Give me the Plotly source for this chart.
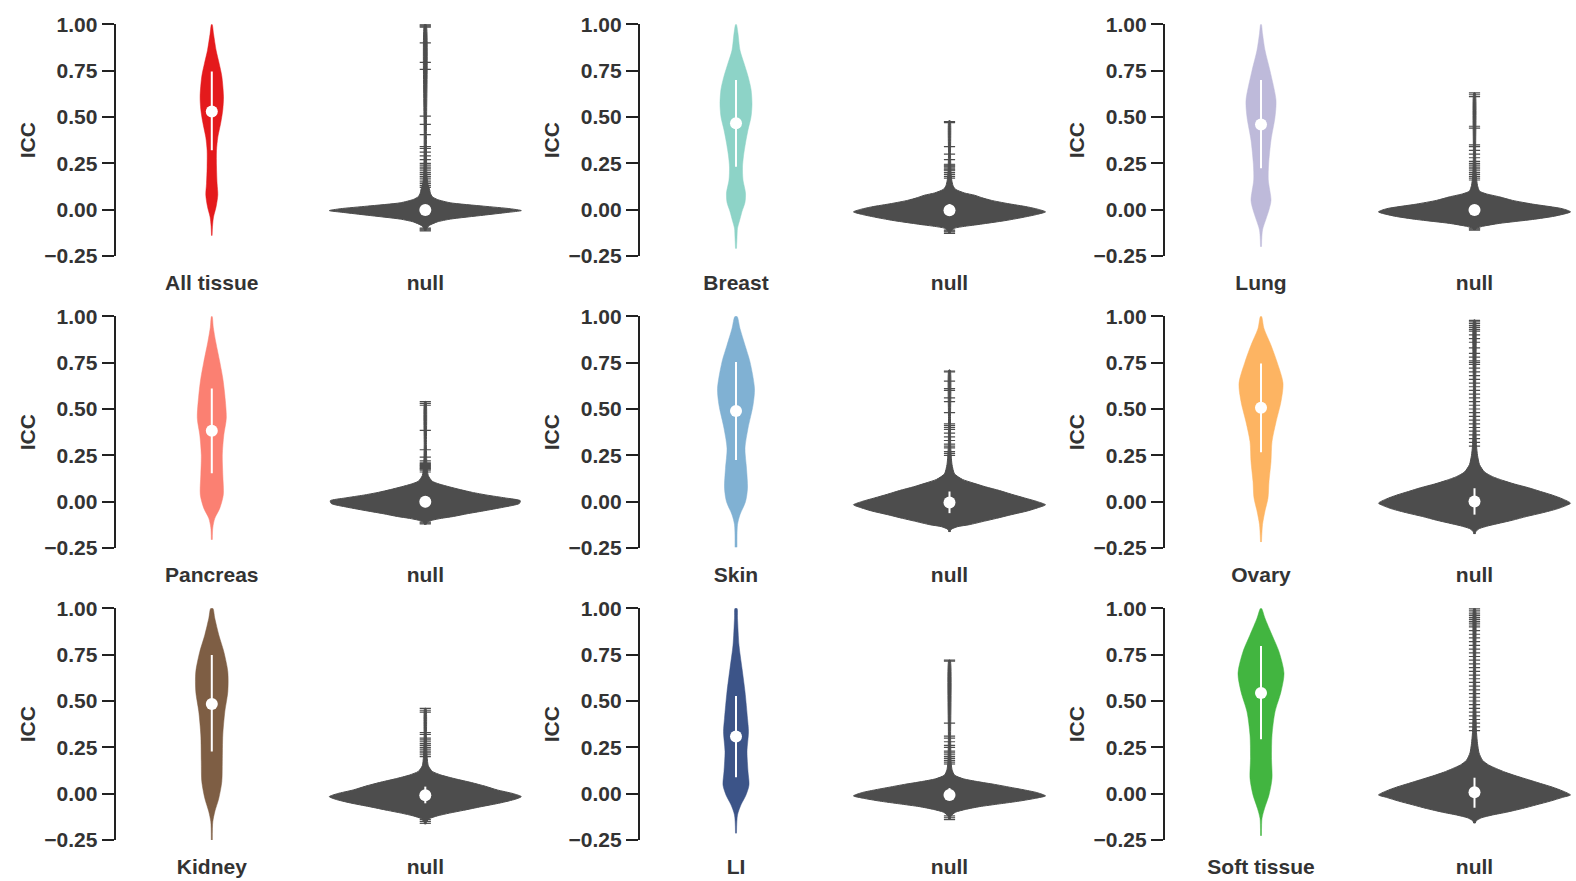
import plotly.graph_objects as go

FIG_W, FIG_H = 1576, 881

# ---------------- data ----------------
tissues = ["All tissue", "Breast", "Lung", "Pancreas", "Skin", "Ovary", "Kidney", "LI", "Soft tissue"]
tissue_colors = ["#E41A1C", "#8DD3C7", "#BEBADA", "#FB8072", "#80B1D3", "#FDB462", "#7E5E44", "#3C5488", "#42B540"]
null_color = "#4D4D4D"

# tissue ICC densities: y grid and density (half-width)
all_tissue_y = [-0.14, -0.09, -0.04, 0.016, 0.08, 0.14, 0.23, 0.32, 0.39, 0.47, 0.54, 0.61, 0.72, 0.79, 0.86, 0.95, 1.00]
all_tissue_d = [0.3, 0.7, 1.7, 4.3, 6.0, 5.3, 4.7, 4.7, 6.0, 9.0, 11.0, 11.7, 10.0, 7.3, 4.3, 1.7, 0.3]
breast_y = [-0.21, -0.15, -0.10, -0.06, -0.01, 0.04, 0.09, 0.16, 0.23, 0.29, 0.36, 0.43, 0.50, 0.57, 0.65, 0.72, 0.79, 0.86, 0.95, 1.00]
breast_d = [0.5, 1.0, 1.5, 3.5, 6.0, 9.0, 9.5, 7.0, 6.5, 7.5, 9.5, 12.0, 15.0, 16.0, 15.0, 12.0, 8.0, 4.0, 2.0, 0.3]
lung_y = [-0.20, -0.11, -0.055, 0.0, 0.05, 0.16, 0.25, 0.375, 0.50, 0.59, 0.75, 0.86, 0.95, 1.00]
lung_d = [0.5, 1.5, 4.7, 8.0, 10.0, 7.3, 7.7, 10.0, 14.0, 15.0, 9.0, 4.0, 1.5, 0.3]
pancreas_y = [-0.205, -0.14, -0.09, -0.035, 0.037, 0.145, 0.25, 0.36, 0.45, 0.575, 0.665, 0.754, 0.86, 0.94, 1.00]
pancreas_d = [0.5, 1.0, 3.0, 8.0, 11.5, 11.0, 10.5, 12.0, 14.5, 13.0, 11.0, 8.0, 4.0, 1.5, 0.3]
skin_y = [-0.246, -0.124, -0.07, 0.0, 0.073, 0.18, 0.288, 0.396, 0.52, 0.61, 0.754, 0.844, 0.934, 1.00]
skin_d = [1.0, 1.5, 4.0, 9.5, 11.5, 10.5, 9.0, 12.0, 17.0, 18.5, 14.0, 9.0, 4.0, 1.0]
ovary_y = [-0.218, -0.124, -0.05, 0.02, 0.109, 0.216, 0.324, 0.43, 0.54, 0.64, 0.754, 0.844, 0.934, 1.00]
ovary_d = [0.5, 1.5, 4.0, 7.0, 8.0, 10.0, 11.0, 15.0, 20.0, 22.0, 16.0, 10.0, 3.0, 0.5]
kidney_y = [-0.25, -0.151, -0.097, -0.025, 0.065, 0.173, 0.317, 0.442, 0.55, 0.658, 0.766, 0.856, 0.946, 1.00]
kidney_d = [0.5, 1.0, 3.0, 7.0, 10.0, 10.5, 11.0, 13.0, 16.0, 16.0, 12.0, 7.0, 3.0, 1.0]
li_y = [-0.214, -0.115, -0.06, -0.007, 0.047, 0.119, 0.227, 0.335, 0.406, 0.55, 0.676, 0.80, 0.946, 1.00]
li_d = [0.5, 1.5, 5.0, 10.0, 13.0, 12.0, 11.0, 12.5, 11.5, 9.0, 6.0, 3.0, 1.5, 1.0]
soft_tissue_y = [-0.227, -0.133, -0.08, -0.007, 0.083, 0.19, 0.317, 0.442, 0.55, 0.65, 0.766, 0.856, 0.946, 1.00]
soft_tissue_d = [0.5, 1.0, 3.5, 8.0, 11.0, 10.5, 11.0, 14.0, 20.0, 23.0, 18.0, 11.0, 4.0, 0.5]

tissue_median = [0.530, 0.466, 0.460, 0.383, 0.489, 0.507, 0.484, 0.308, 0.543]
tissue_q1 = [0.320, 0.232, 0.223, 0.153, 0.225, 0.267, 0.227, 0.088, 0.293]
tissue_q3 = [0.745, 0.700, 0.700, 0.610, 0.754, 0.745, 0.748, 0.527, 0.797]

# null ICC densities
null1_y = [-0.115, -0.10, -0.085, -0.066, -0.051, -0.03, -0.015, -0.005, 0.005, 0.019, 0.037, 0.055, 0.07, 0.09, 0.105, 0.14, 0.2, 0.4, 1.0]
null1_d = [0.6, 1.5, 4, 12, 25, 58, 82, 96, 85, 58, 25, 12, 7, 5, 4.5, 2.5, 1.5, 1.1, 0.8]
null2_y = [-0.128, -0.115, -0.10, -0.09, -0.083, -0.07, -0.057, -0.04, -0.025, -0.012, 0.0, 0.015, 0.033, 0.05, 0.065, 0.078, 0.09, 0.11, 0.13, 0.16, 0.2, 0.3, 0.48]
null2_d = [0.6, 1.5, 5, 15, 25, 42, 58, 75, 88, 96, 90, 78, 58, 42, 32, 25, 15, 6, 3.5, 2.2, 1.5, 1.0, 0.7]
null3_y = [-0.11, -0.10, -0.09, -0.074, -0.053, -0.035, -0.012, 0.005, 0.03, 0.05, 0.069, 0.085, 0.1, 0.13, 0.18, 0.3, 0.63]
null3_d = [0.6, 2, 8, 25, 58, 80, 96, 88, 58, 38, 25, 12, 5, 3, 1.8, 1.1, 0.7]
null4_y = [-0.125, -0.11, -0.10, -0.09, -0.08, -0.065, -0.05, -0.03, -0.01, 0.005, 0.02, 0.035, 0.05, 0.065, 0.08, 0.095, 0.11, 0.14, 0.2, 0.3, 0.54]
null4_d = [0.6, 2, 7, 16, 28, 42, 58, 78, 94, 95, 80, 62, 47, 35, 24, 14, 7, 3, 1.6, 1.1, 0.7]
null5_y = [-0.164, -0.15, -0.135, -0.124, -0.105, -0.09, -0.07, -0.05, -0.03, -0.017, 0.0, 0.02, 0.04, 0.06, 0.08, 0.1, 0.12, 0.15, 0.2, 0.24, 0.3, 0.45, 0.71]
null5_d = [0.6, 1.5, 8, 20, 35, 47, 62, 78, 90, 96, 88, 75, 62, 50, 36, 24, 13, 5, 2.5, 1.8, 1.2, 1.0, 0.7]
null6_y = [-0.175, -0.16, -0.145, -0.13, -0.115, -0.1, -0.08, -0.06, -0.04, -0.02, -0.008, 0.015, 0.035, 0.055, 0.075, 0.095, 0.115, 0.135, 0.16, 0.2, 0.25, 0.3, 0.4, 0.6, 0.98]
null6_d = [0.6, 1.5, 5, 14, 26, 38, 52, 68, 82, 92, 96, 88, 78, 66, 54, 40, 28, 18, 10, 5, 3, 2, 1.4, 1.1, 0.8]
null7_y = [-0.165, -0.15, -0.135, -0.12, -0.105, -0.09, -0.07, -0.05, -0.03, -0.016, 0.0, 0.02, 0.04, 0.06, 0.08, 0.1, 0.12, 0.15, 0.2, 0.3, 0.46]
null7_d = [0.6, 1.5, 4, 12, 24, 38, 56, 75, 90, 96, 88, 72, 60, 46, 30, 16, 7, 3, 1.8, 1.2, 0.7]
null8_y = [-0.142, -0.12, -0.1, -0.085, -0.07, -0.055, -0.04, -0.025, -0.012, 0.005, 0.02, 0.035, 0.05, 0.065, 0.08, 0.1, 0.13, 0.17, 0.3, 0.72]
null8_d = [0.6, 1.5, 6, 16, 30, 50, 70, 86, 96, 88, 75, 60, 45, 28, 14, 5, 2.5, 1.6, 1.1, 0.7]
null9_y = [-0.16, -0.145, -0.13, -0.115, -0.1, -0.08, -0.06, -0.04, -0.02, -0.007, 0.015, 0.035, 0.055, 0.075, 0.095, 0.115, 0.135, 0.155, 0.18, 0.22, 0.27, 0.33, 0.45, 0.7, 1.0]
null9_d = [0.6, 2, 7, 18, 32, 48, 62, 76, 88, 96, 88, 78, 66, 54, 42, 31, 22, 14, 8, 4.5, 3, 2, 1.4, 1.1, 0.8]

null_median = [-0.002, -0.003, -0.002, 0.000, -0.004, 0.001, -0.009, -0.007, 0.007]
null_q1 = [-0.02, -0.03, -0.025, -0.03, -0.062, -0.070, -0.052, -0.03, -0.076]
null_q3 = [0.02, 0.03, 0.025, 0.03, 0.055, 0.073, 0.038, 0.03, 0.086]

# outlying null ICC values (drawn as small dashes)
null1_out = [1.0, 0.995, 0.99, 0.985, 0.90, 0.795, 0.757, 0.505, 0.46, 0.405, 0.34, 0.33, 0.31, 0.29, 0.27, 0.25,
             0.24, 0.23, 0.22, 0.21, 0.20, 0.19, 0.18, 0.17, 0.16, 0.15, 0.14, 0.13, 0.12, -0.10, -0.105, -0.11, -0.115]
null2_out = [0.475, 0.47, 0.34, 0.30, 0.27, 0.245, 0.24, 0.235, 0.23, 0.22, 0.215, 0.21, 0.20, 0.19, 0.18, 0.17,
             -0.11, -0.115, -0.12, -0.128]
null3_out = [0.63, 0.62, 0.61, 0.45, 0.44, 0.35, 0.34, 0.32, 0.30, 0.28, 0.26, 0.25, 0.24, 0.23, 0.22, 0.21, 0.20,
             0.19, 0.18, 0.17, 0.16, -0.10, -0.105, -0.11]
null4_out = [0.54, 0.53, 0.52, 0.385, 0.28, 0.24, 0.22, 0.21, 0.205, 0.20, 0.195, 0.19, 0.185, 0.18, 0.175, 0.17,
             0.16, -0.11, -0.115, -0.12]
null5_out = [0.705, 0.70, 0.65, 0.61, 0.60, 0.56, 0.54, 0.48, 0.42, 0.41, 0.40, 0.39, 0.37, 0.35, 0.33, 0.31, 0.30,
             0.29, 0.27, 0.26, 0.25]
null6_out = [0.978, 0.97, 0.96, 0.95, 0.94, 0.93, 0.92, 0.90, 0.88, 0.86, 0.83, 0.80, 0.78, 0.76, 0.75, 0.74, 0.72,
             0.70, 0.68, 0.66, 0.64, 0.62, 0.60, 0.58, 0.56, 0.54, 0.52, 0.50, 0.48, 0.46, 0.44, 0.42, 0.40, 0.38,
             0.36, 0.34, 0.32, 0.30]
null7_out = [0.46, 0.45, 0.44, 0.33, 0.32, 0.30, 0.29, 0.28, 0.27, 0.26, 0.25, 0.24, 0.23, 0.22, 0.21, 0.20,
             -0.14, -0.15, -0.16]
null8_out = [0.72, 0.715, 0.38, 0.31, 0.30, 0.28, 0.26, 0.25, 0.23, 0.22, 0.21, 0.20, 0.19, 0.18, 0.17, 0.16,
             -0.12, -0.13, -0.14]
null9_out = [1.0, 0.99, 0.98, 0.97, 0.96, 0.95, 0.94, 0.93, 0.92, 0.91, 0.90, 0.88, 0.86, 0.84, 0.82, 0.80, 0.78,
             0.76, 0.74, 0.72, 0.70, 0.68, 0.66, 0.64, 0.62, 0.60, 0.58, 0.56, 0.54, 0.52, 0.50, 0.48, 0.46, 0.44,
             0.42, 0.40, 0.38, 0.36, 0.34]

y_ticks = [-0.25, 0.0, 0.25, 0.50, 0.75, 1.00]

tissue_ys = [all_tissue_y, breast_y, lung_y, pancreas_y, skin_y, ovary_y, kidney_y, li_y, soft_tissue_y]
tissue_ds = [all_tissue_d, breast_d, lung_d, pancreas_d, skin_d, ovary_d, kidney_d, li_d, soft_tissue_d]
null_ys = [null1_y, null2_y, null3_y, null4_y, null5_y, null6_y, null7_y, null8_y, null9_y]
null_ds = [null1_d, null2_d, null3_d, null4_d, null5_d, null6_d, null7_d, null8_d, null9_d]
null_outs = [null1_out, null2_out, null3_out, null4_out, null5_out, null6_out, null7_out, null8_out, null9_out]

# ---------------- layout constants ----------------
COL_LEFT = [115.6, 639.8, 1164.8]  # px of y-axis line
ROW_TOP = [24.3, 316.3, 608.3]     # px of y=1.00
PANEL_H = 231.7
PANEL_W = 408
PX_PER_UNIT = 213.5                # px between the two categories
CAT0_OFFSET = 96.2                 # px from axis line to first category
DENS_SCALE = 1.0 / PX_PER_UNIT     # density units are px half-widths

TEXT = "#333333"
AXIS = "#222222"
FONT = "Liberation Sans, Arial, sans-serif"

fig = go.Figure()


def violin_xy(center, ys, ds):
    xs = [center + d * DENS_SCALE for d in ds] + [center - d * DENS_SCALE for d in reversed(ds)]
    yy = list(ys) + list(reversed(ys))
    return xs, yy


layout = dict(
    template="none",
    width=FIG_W, height=FIG_H, autosize=False,
    margin=dict(l=0, r=0, t=0, b=0, pad=0),
    paper_bgcolor="white", plot_bgcolor="white",
    showlegend=False,
)

for k in range(9):
    r, c = divmod(k, 3)
    xid = "x" if k == 0 else f"x{k+1}"
    yid = "y" if k == 0 else f"y{k+1}"
    xname = "xaxis" if k == 0 else f"xaxis{k+1}"
    yname = "yaxis" if k == 0 else f"yaxis{k+1}"

    left = COL_LEFT[c]
    right = min(left + PANEL_W, FIG_W)
    top = ROW_TOP[r]
    bottom = top + PANEL_H
    xr0 = -CAT0_OFFSET / PX_PER_UNIT
    xr1 = (right - left - CAT0_OFFSET) / PX_PER_UNIT

    layout[xname] = dict(
        domain=[left / FIG_W, right / FIG_W], range=[xr0, xr1], anchor=yid,
        showgrid=False, zeroline=False, showline=False, automargin=False,
        tickvals=[0, 1], ticktext=[tissues[k], "null"],
        ticks="outside", ticklen=8, tickcolor="rgba(0,0,0,0)",
        tickfont=dict(family=FONT, size=21, color=TEXT, weight="bold"),
        fixedrange=True,
    )
    layout[yname] = dict(
        domain=[1 - bottom / FIG_H, 1 - top / FIG_H], range=[-0.25, 1.0], anchor=xid,
        showgrid=False, zeroline=False, showline=True, linewidth=2, linecolor=AXIS, automargin=False,
        tickvals=y_ticks, tickformat=".2f",
        ticks="outside", ticklen=12, tickwidth=2, tickcolor=AXIS,
        tickfont=dict(family=FONT, size=21, color=TEXT, weight="bold"),
        title=dict(text="ICC", font=dict(family=FONT, size=21, color=TEXT, weight="bold"), standoff=3),
        fixedrange=True,
    )

    # tissue violin
    vx, vy = violin_xy(0, tissue_ys[k], tissue_ds[k])
    fig.add_trace(go.Scatter(x=vx, y=vy, xaxis=xid, yaxis=yid, mode="lines", fill="toself",
                             fillcolor=tissue_colors[k],
                             line=dict(color=tissue_colors[k], width=0.5, shape="spline", smoothing=0.8),
                             hoverinfo="skip"))
    # null violin
    nx, ny = violin_xy(1, null_ys[k], null_ds[k])
    fig.add_trace(go.Scatter(x=nx, y=ny, xaxis=xid, yaxis=yid, mode="lines", fill="toself",
                             fillcolor=null_color,
                             line=dict(color=null_color, width=1, shape="spline", smoothing=0.6),
                             hoverinfo="skip"))
    # null outliers
    fig.add_trace(go.Scatter(x=[1] * len(null_outs[k]), y=null_outs[k], xaxis=xid, yaxis=yid, mode="markers",
                             marker=dict(symbol="line-ew", size=8, line=dict(color=null_color, width=1.2)),
                             hoverinfo="skip"))
    # IQR lines
    fig.add_trace(go.Scatter(x=[0, 0], y=[tissue_q1[k], tissue_q3[k]], xaxis=xid, yaxis=yid, mode="lines",
                             line=dict(color="white", width=2), hoverinfo="skip"))
    fig.add_trace(go.Scatter(x=[1, 1], y=[null_q1[k], null_q3[k]], xaxis=xid, yaxis=yid, mode="lines",
                             line=dict(color="white", width=2), hoverinfo="skip"))
    # medians
    fig.add_trace(go.Scatter(x=[0, 1], y=[tissue_median[k], null_median[k]], xaxis=xid, yaxis=yid,
                             mode="markers", marker=dict(color="white", size=12, line=dict(width=0)),
                             hoverinfo="skip"))

fig.update_layout(**layout)
fig.write_html("out.html")
